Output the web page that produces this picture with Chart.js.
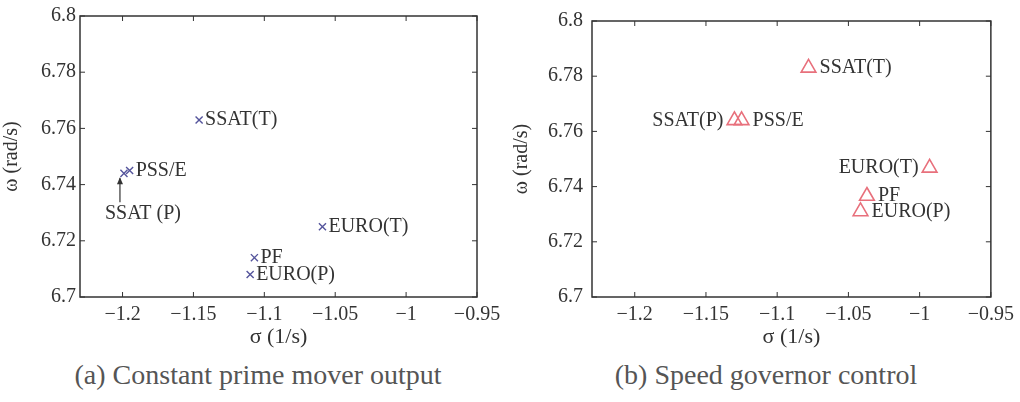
<!DOCTYPE html>
<html><head><meta charset="utf-8">
<script src="https://cdn.jsdelivr.net/npm/chart.js@4/dist/chart.umd.min.js"></script>
<style>
html,body{margin:0;padding:0;background:#fff;width:1020px;height:402px;overflow:hidden}
.panel{position:absolute;top:0;width:510px;height:350px}
#pa{left:0}#pb{left:510px}
.cap{position:absolute;top:359px;font-family:"Liberation Serif","DejaVu Serif",serif;font-size:28px;line-height:32px;color:#555;white-space:nowrap;transform:translateX(-50%)}
</style></head><body>
<div class="panel" id="pa"><canvas id="ca" width="510" height="350"></canvas></div>
<div class="panel" id="pb"><canvas id="cb" width="510" height="350"></canvas></div>
<div class="cap" style="left:258px">(a) Constant prime mover output</div>
<div class="cap" style="left:766px">(b) Speed governor control</div>
<script>
// ---- data ----
const xTicks = [-1.2, -1.15, -1.1, -1.05, -1, -0.95];
const yTicks = [6.7, 6.72, 6.74, 6.76, 6.78, 6.8];
const methods = ['SSAT(T)', 'SSAT(P)', 'PSS/E', 'PF', 'EURO(T)', 'EURO(P)'];
const sigmaA = [-1.146, -1.199, -1.195, -1.107, -1.059, -1.110];
const omegaA = [6.763, 6.744, 6.745, 6.714, 6.725, 6.708];
const sigmaB = [-1.078, -1.130, -1.125, -1.037, -0.993, -1.0415];
const omegaB = [6.783, 6.764, 6.764, 6.7366, 6.7468, 6.731];
const xLimits = [-1.23, -0.95];
const yLimits = [6.7, 6.8];

const FONT = '"Liberation Serif","DejaVu Serif",serif';
const INK = '#333';

function fmt(v){ return String(+v.toFixed(2)).replace('-', '\u2212'); }

const framePlugin = {
  id: 'frame',
  afterDraw(chart){
    const {ctx, chartArea:{left,right,top,bottom}, scales:{x,y}} = chart;
    ctx.save();
    ctx.strokeStyle = INK; ctx.lineWidth = 1.5;
    ctx.strokeRect(left, top, right-left, bottom-top);
    ctx.lineWidth = 1;
    const L = 5;
    x.ticks.forEach(t => {
      const px = x.getPixelForValue(t.value);
      ctx.beginPath(); ctx.moveTo(px, bottom); ctx.lineTo(px, bottom-L);
      ctx.moveTo(px, top); ctx.lineTo(px, top+L); ctx.stroke();
    });
    y.ticks.forEach(t => {
      const py = y.getPixelForValue(t.value);
      ctx.beginPath(); ctx.moveTo(left, py); ctx.lineTo(left+L, py);
      ctx.moveTo(right, py); ctx.lineTo(right-L, py); ctx.stroke();
    });
    ctx.restore();
  }
};

const labelPlugin = {
  id: 'ptlabels',
  afterDatasetsDraw(chart, args, opts){
    const {ctx} = chart;
    const meta = chart.getDatasetMeta(0);
    ctx.save();
    ctx.font = '20px ' + FONT;
    ctx.fillStyle = INK;
    ctx.textBaseline = 'middle';
    meta.data.forEach((el, i) => {
      const name = methods[i];
      const side = opts.side[name] || 'right';
      if (side === 'right') {
        ctx.textAlign = 'left'; ctx.fillText(name, el.x + opts.gap, el.y);
      } else if (side === 'left') {
        ctx.textAlign = 'right'; ctx.fillText(name, el.x - opts.gap, el.y);
      } else if (side === 'arrow') {
        const ax = el.x - 4;
        ctx.strokeStyle = INK; ctx.lineWidth = 1.2;
        ctx.beginPath(); ctx.moveTo(ax, el.y + 29); ctx.lineTo(ax, el.y + 5); ctx.stroke();
        ctx.beginPath(); ctx.moveTo(ax, el.y + 4); ctx.lineTo(ax - 3, el.y + 11); ctx.lineTo(ax + 3, el.y + 11); ctx.closePath(); ctx.fill();
        ctx.textAlign = 'center';
        ctx.fillText('SSAT (P)', el.x + 19, el.y + 40);
      }
    });
    ctx.restore();
  }
};

function makeChart(id, sx, sy, style, layout, side, gap){
  const pts = sx.map((v, i) => ({x: v, y: sy[i]}));
  return new Chart(document.getElementById(id), {
    type: 'scatter',
    data: { datasets: [{ data: pts, ...style }] },
    options: {
      responsive: false, animation: false, devicePixelRatio: 1,
      layout: { padding: { top: layout.top, right: layout.right, left: 0, bottom: 0 } },
      plugins: { legend: {display:false}, tooltip: {enabled:false}, ptlabels: { side, gap } },
      scales: {
        x: {
          type: 'linear', min: xLimits[0], max: xLimits[1],
          afterBuildTicks: s => { s.ticks = xTicks.map(v => ({value: v})); },
          afterFit: s => { s.height = layout.xh; },
          grid: { display: false, drawTicks: false }, border: { display: false },
          ticks: { callback: v => fmt(v), font: { family: FONT, size: 20 }, color: INK, padding: 6, maxRotation: 0, autoSkip: false },
          title: { display: true, text: '\u03C3 (1/s)', font: { family: FONT, size: 22 }, color: INK, padding: { top: 0, bottom: 0 } }
        },
        y: {
          type: 'linear', min: yLimits[0], max: yLimits[1],
          afterBuildTicks: s => { s.ticks = yTicks.map(v => ({value: v})); },
          afterFit: s => { s.width = layout.yw; },
          grid: { display: false, drawTicks: false }, border: { display: false },
          ticks: { callback: v => fmt(v), font: { family: FONT, size: 20 }, color: INK, padding: layout.ypad, autoSkip: false },
          title: { display: true, text: '\u03C9 (rad/s)', font: { family: FONT, size: 20 }, color: INK, padding: 0 }
        }
      }
    },
    plugins: [framePlugin, labelPlugin]
  });
}

makeChart('ca', sigmaA, omegaA,
  { pointStyle: 'crossRot', pointRadius: 5, borderColor: '#55559c', borderWidth: 1.4, backgroundColor: 'transparent' },
  { top: 13, right: 33, xh: 53, yw: 80, ypad: 4 },
  { 'SSAT(P)': 'arrow' }, 6);

makeChart('cb', sigmaB, omegaB,
  { pointStyle: 'triangle', pointRadius: 8.5, borderColor: '#e8707c', borderWidth: 1.6, backgroundColor: 'rgba(255,255,255,0)' },
  { top: 13, right: 27, xh: 53, yw: 82, ypad: 9 },
  { 'SSAT(P)': 'left', 'EURO(T)': 'left' }, 11);
</script>
</body></html>
